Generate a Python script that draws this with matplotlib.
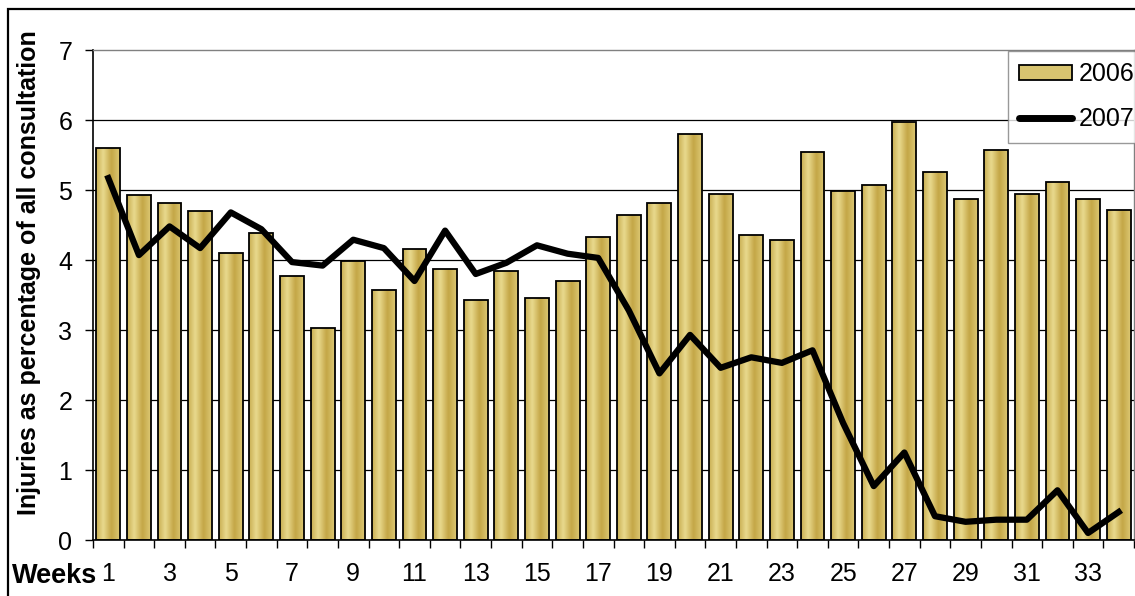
import matplotlib
matplotlib.use("Agg")
import matplotlib.pyplot as plt
import matplotlib.patches as mpatches
import matplotlib.lines as mlines
from matplotlib.colors import LinearSegmentedColormap
import numpy as np

plt.rcParams['font.family'] = ['Liberation Sans', 'DejaVu Sans']

weeks = list(range(1, 35))
tick_labels = [str(w) if w % 2 == 1 else "" for w in weeks]
series_2006 = [5.60, 4.93, 4.82, 4.70, 4.10, 4.39, 3.77, 3.03, 3.99, 3.57,
               4.16, 3.87, 3.43, 3.84, 3.46, 3.70, 4.33, 4.64, 4.81, 5.80,
               4.95, 4.36, 4.28, 5.54, 4.99, 5.07, 5.97, 5.26, 4.87, 5.57,
               4.95, 5.12, 4.87, 4.72]
series_2007 = [5.17, 4.07, 4.48, 4.17, 4.68, 4.44, 3.97, 3.92, 4.29, 4.17,
               3.70, 4.42, 3.80, 3.96, 4.21, 4.09, 4.03, 3.28, 2.38, 2.93,
               2.46, 2.61, 2.53, 2.71, 1.67, 0.77, 1.25, 0.34, 0.26, 0.29,
               0.29, 0.71, 0.10, 0.40]
y_ticks = [0, 1, 2, 3, 4, 5, 6, 7]
legend_labels = ["2006", "2007"]
ylabel = "Injuries as percentage of all consultation"
xlabel = "Weeks"

W, H = 1135, 596
fig = plt.figure(figsize=(W / 100, H / 100), dpi=100)
ax = fig.add_axes([93 / W, 1 - 540 / H, (1134 - 93) / W, (540 - 50) / H])

x = np.arange(len(weeks))
gold = LinearSegmentedColormap.from_list(
    "gold", [(0.0, '#c9ae52'), (0.3, '#e9da8e'), (0.65, '#c4a646'), (1.0, '#dcc874')])
grad = np.linspace(0, 1, 64).reshape(1, -1)

bars = ax.bar(x, series_2006, width=0.78, facecolor='none', edgecolor='black',
              linewidth=1.3, zorder=3)
for b in bars:
    x0, y0 = b.get_x(), b.get_y()
    w, h = b.get_width(), b.get_height()
    im = ax.imshow(grad, cmap=gold, aspect='auto', extent=(x0, x0 + w, y0, y0 + h),
                   zorder=2, interpolation='bicubic')
    im.set_clip_path(b)

ax.plot(x, series_2007, color='black', linewidth=4.5, zorder=4)

ax.set_xlim(-0.5, len(weeks) - 0.5)
ax.set_ylim(0, 7)
ax.set_yticks(y_ticks)
ax.set_yticklabels([str(t) for t in y_ticks], fontsize=18)
ax.set_xticks(x)
ax.set_xticklabels(tick_labels, fontsize=18)
ax.set_xticks(np.arange(-0.5, len(weeks) + 0.5, 1), minor=True)
ax.tick_params(axis='x', which='major', length=0, pad=16)
ax.tick_params(axis='x', which='minor', length=6, width=1, direction='out')
ax.tick_params(axis='y', length=6, width=1, direction='out', pad=9)

for t in y_ticks[1:-1]:
    ax.axhline(t, color='black', linewidth=0.9, zorder=1)

ax.spines['left'].set_color('black')
ax.spines['left'].set_linewidth(1.2)
ax.spines['bottom'].set_color('black')
ax.spines['bottom'].set_linewidth(1.2)
ax.spines['top'].set_color('#808080')
ax.spines['right'].set_color('#808080')
ax.spines['top'].set_linewidth(1)
ax.spines['right'].set_linewidth(1)

fig.text(29 / W, 1 - 273 / H, ylabel, rotation=90, fontsize=18, fontweight='bold',
         ha='center', va='center')
fig.text(12 / W, 1 - 576 / H, xlabel, fontsize=19.5, fontweight='bold',
         ha='left', va='center')

h1 = mpatches.Patch(facecolor='#d8c470', edgecolor='black', linewidth=1.3)
h2 = mlines.Line2D([], [], color='black', linewidth=5, solid_capstyle='round')
leg = fig.legend([h1, h2], legend_labels, loc='upper left',
                 bbox_to_anchor=(1008 / W, 1 - 51 / H), bbox_transform=fig.transFigure,
                 fontsize=18, frameon=True, fancybox=False, shadow=False,
                 borderaxespad=0, borderpad=0.45, handlelength=2.1, handleheight=0.6,
                 handletextpad=0.28, labelspacing=0.85)
leg.get_frame().set_edgecolor('#808080')
leg.get_frame().set_linewidth(1)

border = mpatches.Rectangle((8 / W, -0.2), 2, 1.2 - 9 / H, transform=fig.transFigure,
                            fill=False, edgecolor='black', linewidth=1.6)
fig.add_artist(border)

fig.savefig("out.png", dpi=100)
